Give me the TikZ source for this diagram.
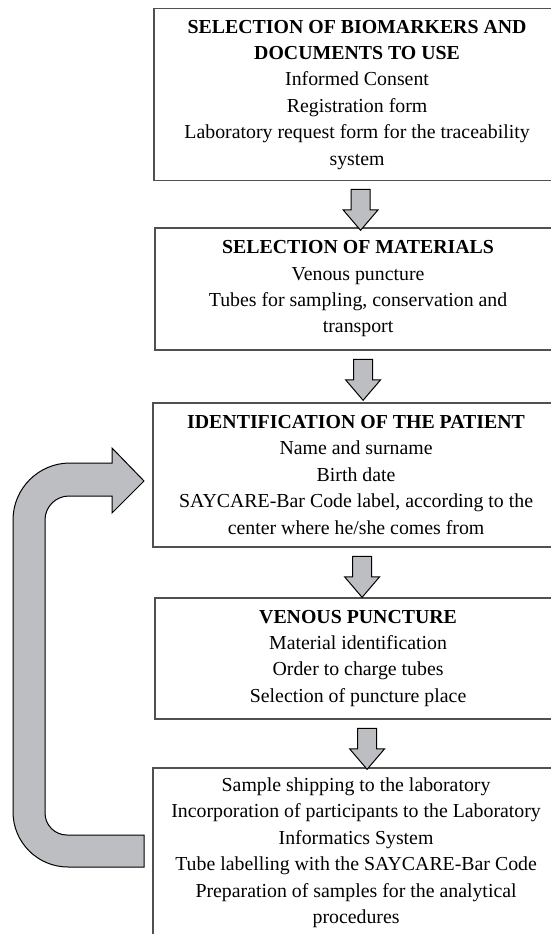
\documentclass[tikz,border=0pt]{standalone}
\usepackage{fontspec}
\setmainfont{Liberation Serif}
\usepackage{tikz}
\usetikzlibrary{positioning}
\usetikzlibrary{calc}
\usetikzlibrary{shapes.arrows}
\definecolor{arrowgray}{RGB}{189,190,194}
\definecolor{boxline}{RGB}{80,80,80}

\begin{document}
\begin{tikzpicture}[x=0.6pt, y=-0.6pt,
  procbox/.style={draw=boxline, line width=0.9pt, align=center, anchor=north west, minimum width=244pt, inner sep=0pt, font=\fontsize{11.9}{15.84}\selectfont},
  fatarrow/.style={single arrow, draw=black, line width=0.6pt, fill=arrowgray, rotate=-90, inner sep=5.4pt, single arrow head extend=4.8pt, single arrow tip angle=81, minimum height=24.6pt, minimum width=20.4pt},
  loopshape/.style={draw=black, line width=0.6pt, fill=arrowgray}
]
\useasboundingbox (0,0) rectangle (550,934);

\node [procbox, minimum height=103.2pt] (sel) at (153, 8) {\textbf{SELECTION OF BIOMARKERS AND}\\ \textbf{DOCUMENTS TO USE}\\ Informed Consent\\ Registration form\\ Laboratory request form for the traceability\\ system};
\node [procbox, minimum height=73.2pt] (mat) at (154, 227) {\textbf{SELECTION OF MATERIALS}\\ Venous puncture\\ Tubes for sampling, conservation and\\ transport};
\node [procbox, minimum height=86.4pt] (ident) at (152, 402) {\textbf{IDENTIFICATION OF THE PATIENT}\\ Name and surname\\ Birth date\\ SAYCARE-Bar Code label, according to the\\ center where he/she comes from};
\node [procbox, minimum height=72.6pt] (punct) at (154, 597) {\textbf{VENOUS PUNCTURE}\\ Material identification\\ Order to charge tubes\\ Selection of puncture place};
\node [procbox, minimum height=102pt] (lab) at (152, 767) {Sample shipping to the laboratory\\ Incorporation of participants to the Laboratory\\ Informatics System\\ Tube labelling with the SAYCARE-Bar Code\\ Preparation of samples for the analytical\\ procedures};

\node [fatarrow] (a1) at ($(sel.south)!0.5!(mat.north) + (3,0)$) {};
\node [fatarrow] (a2) at ($(mat.south)!0.5!(ident.north) + (6,-2)$) {};
\node [fatarrow] (a3) at ($(ident.south)!0.5!(punct.north) + (5,-1)$) {};
\node [fatarrow] (a4) at ($(punct.south)!0.5!(lab.north) + (10,0)$) {};

\draw [loopshape] (144, 835) -- (67, 835) arc [start angle=90, end angle=180, radius=22] -- (45, 520) arc [start angle=180, end angle=270, radius=24] -- (112, 496) -- (112, 513) -- (144, 481) -- (112, 448) -- (112, 463) -- (70, 463) arc [start angle=270, end angle=180, radius=57] -- (13, 812) arc [start angle=180, end angle=90, radius=55] -- (144, 867) -- cycle;

\end{tikzpicture}
\end{document}
